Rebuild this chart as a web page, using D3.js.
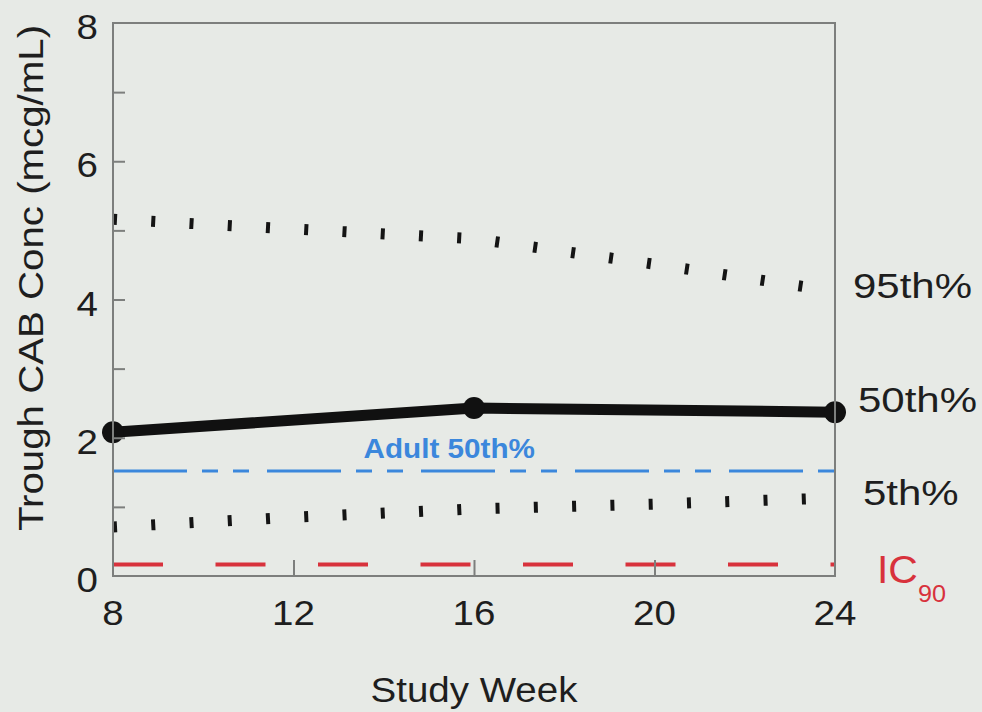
<!DOCTYPE html>
<html>
<head>
<meta charset="utf-8">
<script src="https://cdn.jsdelivr.net/npm/d3@7"></script>
<style>
  html, body { margin: 0; padding: 0; background: #e7eae6; }
  svg text { font-family: "Liberation Sans", Arial, Helvetica, sans-serif; }
</style>
</head>
<body>
<div id="chart"></div>
<script>
// values
const weeks = [8, 12, 16, 20, 24];
const p95 = [5.16, 5.02, 4.88, 4.51, 4.12];
const p5 = [0.71, 0.85, 0.97, 1.04, 1.13];
const medianWeeks = [8, 16, 24];
const p50 = [2.08, 2.43, 2.37];
const adult50 = 1.52;
const ic90 = 0.166;
const xTicks = [8, 12, 16, 20, 24];
const yMinorTicks = [1, 2, 3, 4, 5, 6, 7];
const yLabels = [0, 2, 4, 6, 8];

const width = 982, height = 712;
const margin = { top: 23, right: 147, bottom: 136, left: 113 };

const svg = d3.select("#chart").append("svg")
  .attr("width", width)
  .attr("height", height);

svg.append("rect").attr("width", width).attr("height", height).attr("fill", "#e7eae6");

const x = d3.scaleLinear().domain([8, 24]).range([margin.left, width - margin.right]);
const y = d3.scaleLinear().domain([0, 8]).range([height - margin.bottom, margin.top]);

// text with a slight horizontal stretch, like the original font
function label(parent, px, py, str, o) {
  return parent.append("text")
    .attr("transform", `translate(${px},${py}) rotate(${o.rotate || 0}) scale(${o.sx || 1.1},1)`)
    .attr("text-anchor", o.anchor || "start")
    .attr("font-size", o.size)
    .attr("font-weight", o.weight || "normal")
    .attr("fill", o.fill || "#1e1e1e")
    .text(str);
}

const line = d3.line().x(d => x(d[0])).y(d => y(d[1]));

// IC90 line
svg.append("path")
  .datum([[8, ic90], [24, ic90]])
  .attr("d", line)
  .attr("fill", "none")
  .attr("stroke", "#d8323c")
  .attr("stroke-width", 4)
  .attr("stroke-dasharray", "50,52.5");

// adult median
svg.append("path")
  .datum([[8, adult50], [24, adult50]])
  .attr("d", line)
  .attr("fill", "none")
  .attr("stroke", "#3b87dc")
  .attr("stroke-width", 3)
  .attr("stroke-dasharray", "74,15,16,15,16,18");

label(svg, x(15.45), y(adult50) - 13, "Adult 50th%", { size: 28, weight: "bold", fill: "#3b87dc", anchor: "middle", sx: 1.06 });

// 5th and 95th percentiles: thick stroke, short dashes -> upright ticks
[p5, p95].forEach(vals => {
  svg.append("path")
    .datum(weeks.map((w, i) => [w, vals[i]]))
    .attr("d", line)
    .attr("fill", "none")
    .attr("stroke", "#141414")
    .attr("stroke-width", 11)
    .attr("stroke-dasharray", "4,34.3");
});

// median
const med = medianWeeks.map((w, i) => [w, p50[i]]);
svg.append("path")
  .datum(med)
  .attr("d", line)
  .attr("fill", "none")
  .attr("stroke", "#111")
  .attr("stroke-width", 11)
  .attr("stroke-linejoin", "round");

svg.selectAll(".med-dot")
  .data(med)
  .join("circle")
  .attr("class", "med-dot")
  .attr("cx", d => x(d[0]))
  .attr("cy", d => y(d[1]))
  .attr("r", 11)
  .attr("fill", "#111");

// frame
svg.append("rect")
  .attr("x", x(8)).attr("y", y(8))
  .attr("width", x(24) - x(8)).attr("height", y(0) - y(8))
  .attr("fill", "none")
  .attr("stroke", "#7d7f7d")
  .attr("stroke-width", 2);

// inward ticks
const yAxis = svg.append("g")
  .attr("transform", `translate(${x(8)},0)`)
  .call(d3.axisLeft(y).tickValues(yMinorTicks).tickSize(-12).tickFormat(""));
const xAxis = svg.append("g")
  .attr("transform", `translate(0,${y(0)})`)
  .call(d3.axisBottom(x).tickValues(xTicks.slice(1, -1)).tickSize(-16).tickFormat(""));
[yAxis, xAxis].forEach(a => {
  a.select(".domain").remove();
  a.selectAll(".tick line").attr("stroke", "#7d7f7d").attr("stroke-width", 2);
});

// tick labels
yLabels.forEach(v => label(svg, 98, y(v) + 16, v, { size: 35, anchor: "end" }));
xTicks.forEach(v => label(svg, x(v), 625, v, { size: 35, anchor: "middle" }));

// axis titles
label(svg, x(16), 702, "Study Week", { size: 35, anchor: "middle" });
label(svg, 43, 278, "Trough CAB Conc (mcg/mL)", { size: 35, anchor: "middle", rotate: -90, sx: 1.15 });

// right side labels
label(svg, 853, 298, "95th%", { size: 35, sx: 1.2 });
label(svg, 858, 412, "50th%", { size: 35, sx: 1.2 });
label(svg, 863, 505, "5th%", { size: 35, sx: 1.2 });
const ic = label(svg, 877, 583, "IC", { size: 39, fill: "#d8323c", sx: 1.05 });
ic.append("tspan").attr("font-size", 24).attr("dy", 19).text("90");
</script>
</body>
</html>
